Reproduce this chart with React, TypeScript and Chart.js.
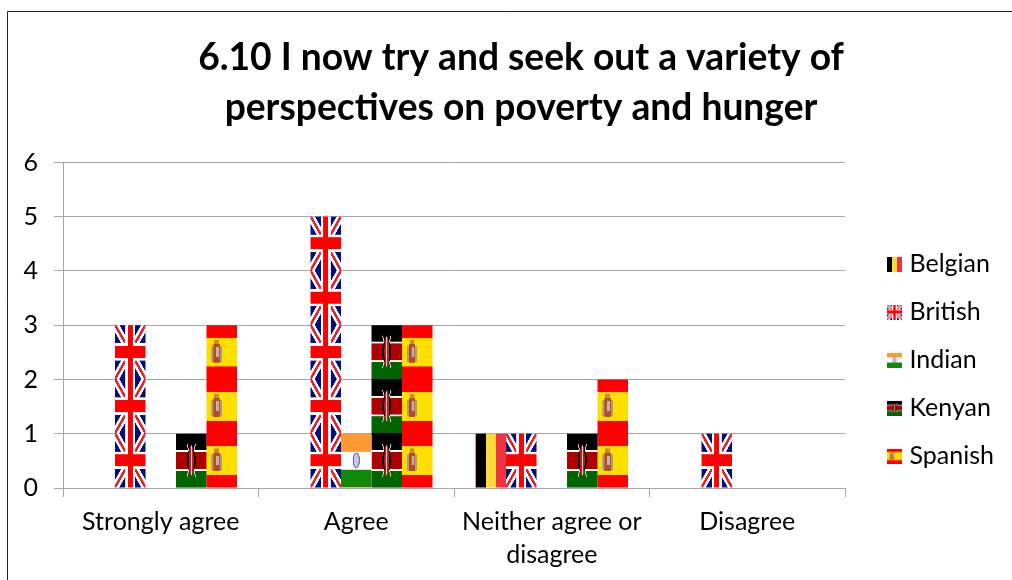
import React, { useEffect, useRef } from "react";
import { Chart, registerables } from "chart.js";

Chart.register(...registerables);

const chartTitle = ["6.10 I now try and seek out a variety of", "perspectives on poverty and hunger"];
const categories = ["Strongly agree", "Agree", ["Neither agree or", "disagree"], "Disagree"];
const belgian = [null, null, 1, null];
const british = [3, 5, 1, 1];
const indian = [null, 1, null, null];
const kenyan = [1, 3, 1, null];
const spanish = [3, 3, 2, null];
const yMax = 6;

type Painter = (c: CanvasRenderingContext2D, w: number, h: number) => void;

const paintBelgian: Painter = (c, w, h) => {
  c.fillStyle = "#000000"; c.fillRect(0, 0, w / 3, h);
  c.fillStyle = "#FDDA3A"; c.fillRect(w / 3, 0, w / 3, h);
  c.fillStyle = "#EF3340"; c.fillRect((2 * w) / 3, 0, w / 3 + 1, h);
};

const paintBritish: Painter = (c, w, h) => {
  c.fillStyle = "#00107A"; c.fillRect(0, 0, w, h);
  const unit = Math.min(w, h);
  const diag = (col: string, lw: number) => {
    c.strokeStyle = col; c.lineWidth = lw; c.lineCap = "butt";
    c.beginPath();
    c.moveTo(-w * 0.1, -h * 0.1); c.lineTo(w * 1.1, h * 1.1);
    c.moveTo(w * 1.1, -h * 0.1); c.lineTo(-w * 0.1, h * 1.1);
    c.stroke();
  };
  diag("#FFFFFF", unit * 0.24);
  diag("#E8202A", unit * 0.08);
  c.fillStyle = "#FFFFFF";
  c.fillRect(w * 0.34, 0, w * 0.32, h);
  c.fillRect(0, h * 0.34, w, h * 0.32);
  c.fillStyle = "#FF0000";
  c.fillRect(w * 0.42, 0, w * 0.16, h);
  c.fillRect(0, h * 0.39, w, h * 0.22);
};

const paintIndian: Painter = (c, w, h) => {
  c.fillStyle = "#FF9933"; c.fillRect(0, 0, w, h * 0.34);
  c.fillStyle = "#FFFFFF"; c.fillRect(0, h * 0.34, w, h * 0.33);
  c.fillStyle = "#138808"; c.fillRect(0, h * 0.67, w, h * 0.33 + 1);
  c.strokeStyle = "#6A6AB8"; c.lineWidth = Math.max(w * 0.04, 1);
  c.beginPath();
  c.ellipse(w / 2, h / 2, w * 0.1, h * 0.13, 0, 0, Math.PI * 2);
  c.stroke();
  c.fillStyle = "#C8C8E8";
  c.beginPath();
  c.ellipse(w / 2, h / 2, w * 0.08, h * 0.11, 0, 0, Math.PI * 2);
  c.fill();
};

const paintKenyan: Painter = (c, w, h) => {
  c.fillStyle = "#000000"; c.fillRect(0, 0, w, h * 0.31);
  c.fillStyle = "#FFFFFF"; c.fillRect(0, h * 0.31, w, h * 0.38);
  c.fillStyle = "#B00000"; c.fillRect(0, h * 0.345, w, h * 0.31);
  c.fillStyle = "#006400"; c.fillRect(0, h * 0.69, w, h * 0.31 + 1);
  const cx = w / 2, cy = h / 2;
  c.strokeStyle = "#D8D8D8"; c.lineWidth = w * 0.03;
  c.beginPath();
  c.moveTo(cx - w * 0.14, cy - h * 0.3); c.lineTo(cx + w * 0.14, cy + h * 0.3);
  c.moveTo(cx + w * 0.14, cy - h * 0.3); c.lineTo(cx - w * 0.14, cy + h * 0.3);
  c.stroke();
  c.fillStyle = "#000000";
  c.beginPath(); c.ellipse(cx, cy, w * 0.15, h * 0.22, 0, 0, Math.PI * 2); c.fill();
  c.fillStyle = "#C81E1E";
  c.beginPath(); c.ellipse(cx, cy, w * 0.08, h * 0.29, 0, 0, Math.PI * 2); c.fill();
  c.fillStyle = "#F0D0D0";
  c.fillRect(cx - w * 0.015, cy - h * 0.27, w * 0.03, h * 0.54);
};

const paintSpanish: Painter = (c, w, h) => {
  c.fillStyle = "#FF0000"; c.fillRect(0, 0, w, h + 1);
  c.fillStyle = "#FFDF00"; c.fillRect(0, h * 0.24, w, h * 0.53);
  const cx = w * 0.33, cy = h * 0.5, ew = w * 0.17, eh = h * 0.22;
  c.fillStyle = "#A8A078";
  c.fillRect(cx - ew, cy - eh * 0.5, ew * 2, eh * 1.35);
  c.fillStyle = "#B84A28";
  c.fillRect(cx - ew * 0.6, cy - eh * 0.65, ew * 1.2, eh * 1.55);
  c.fillStyle = "#C98A3A";
  c.fillRect(cx - ew * 0.45, cy - eh, ew * 0.9, eh * 0.35);
  c.fillStyle = "#C8B0A8";
  c.fillRect(cx - ew * 0.1, cy - eh * 0.4, ew * 0.55, eh * 0.8);
};

const tileCanvas = (paint: Painter, w: number, h: number) => {
  const cv = document.createElement("canvas");
  cv.width = w; cv.height = h;
  paint(cv.getContext("2d")!, w, h);
  return cv;
};

const TILE_W = 124;
const TILE_H = 216;

const seriesDefs = [
  { label: "Belgian", data: belgian, paint: paintBelgian },
  { label: "British", data: british, paint: paintBritish },
  { label: "Indian", data: indian, paint: paintIndian },
  { label: "Kenyan", data: kenyan, paint: paintKenyan },
  { label: "Spanish", data: spanish, paint: paintSpanish },
];

const flagFill = {
  id: "flagFill",
  beforeDatasetsDraw(chart: any) {
    const ctx = chart.ctx as CanvasRenderingContext2D;
    const unit = Math.abs(chart.scales.y.getPixelForValue(1) - chart.scales.y.getPixelForValue(0));
    seriesDefs.forEach((s, i) => {
      const tile = tileCanvas(s.paint, TILE_W, TILE_H);
      chart.getDatasetMeta(i).data.forEach((el: any) => {
        const left = el.x - el.width / 2;
        const pat = ctx.createPattern(tile, "repeat")!;
        pat.setTransform(new DOMMatrix().translate(left, el.base).scale(el.width / TILE_W, unit / TILE_H));
        el.options = { ...el.options, backgroundColor: pat };
      });
    });
  },
};

const frame = {
  id: "frame",
  beforeDraw(chart: any) {
    const c = chart.ctx as CanvasRenderingContext2D;
    c.save();
    c.strokeStyle = "#222222";
    c.lineWidth = 1;
    c.beginPath();
    c.moveTo(7.5, 600); c.lineTo(7.5, 11.5); c.lineTo(1012, 11.5);
    c.stroke();
    c.restore();
  },
};

// Moves the title and legend blocks without changing the plot area.
const placeBlocks = {
  id: "placeBlocks",
  afterLayout(chart: any) {
    chart.titleBlock.left = 30;
    chart.titleBlock.right = 1012;
    const lg = chart.legend;
    const targetLeft = 869;
    const dx = targetLeft - lg.left;
    lg.left += dx; lg.right += dx;
    lg.top += 70; lg.bottom += 70;
  },
};

const FONT = "Lato, Carlito, Calibri, sans-serif";

export default function App() {
  const ref = useRef<HTMLCanvasElement>(null);
  useEffect(() => {
    const chart = new Chart(ref.current!, {
      type: "bar",
      data: {
        labels: categories as any,
        datasets: seriesDefs.map((s) => ({
          label: s.label,
          data: s.data,
          backgroundColor: "#888888",
          borderWidth: 0,
          barPercentage: 1,
          categoryPercentage: 0.78,
        })),
      },
      plugins: [frame, flagFill, placeBlocks],
      options: {
        responsive: false,
        animation: false,
        layout: { padding: { left: 0, right: 32, top: 0, bottom: 0 } },
        plugins: {
          tooltip: { enabled: false },
          title: {
            display: true,
            text: chartTitle,
            color: "#000000",
            font: { family: FONT, size: 37.2, weight: "bold", lineHeight: 1.35 },
            padding: { top: 33, bottom: 29 },
          },
          legend: {
            position: "right",
            labels: {
              usePointStyle: true,
              pointStyleWidth: 5,
              boxWidth: 15,
              boxHeight: 15,
              padding: 23,
              color: "#000000",
              font: { family: FONT, size: 25 },
              generateLabels: () =>
                seriesDefs.map((s, i) => ({
                  text: s.label,
                  datasetIndex: i,
                  pointStyle: tileCanvas(s.paint, 15, 15),
                  fillStyle: "#000",
                  strokeStyle: "#000",
                  lineWidth: 0,
                  fontColor: "#000000",
                })) as any,
            },
          },
        },
        scales: {
          x: {
            ticks: { color: "#000000", font: { family: FONT, size: 25, lineHeight: 1.3 }, padding: 9, maxRotation: 0 },
            grid: { drawOnChartArea: false, drawTicks: true, tickLength: 9, color: "#A6A6A6", lineWidth: 1 },
            border: { color: "#A6A6A6" },
            afterFit: (a: any) => { a.height = 92; },
          },
          y: {
            min: 0,
            max: yMax,
            ticks: { stepSize: 1, color: "#000000", font: { family: FONT, size: 25 }, padding: 16 },
            grid: { color: "#A6A6A6", lineWidth: 1, tickLength: 9 },
            border: { color: "#A6A6A6" },
            afterFit: (a: any) => { a.width = 63; },
          },
        },
      } as any,
    });
    return () => chart.destroy();
  }, []);
  return (
    <div style={{ position: "absolute", left: 0, top: 0, width: 1012, height: 580, background: "#fff" }}>
      <canvas ref={ref} width={1012} height={580} style={{ display: "block" }} />
    </div>
  );
}
